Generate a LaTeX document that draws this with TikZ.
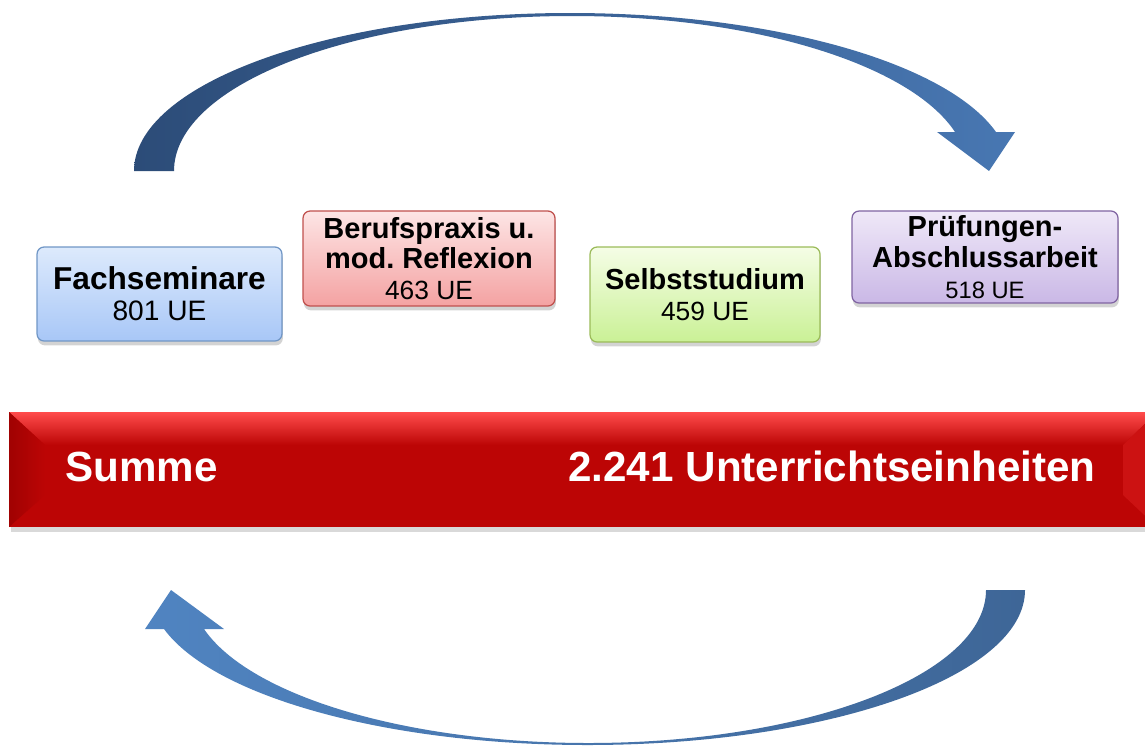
\documentclass[tikz,border=0pt]{standalone}
\usepackage{fontspec}
\setmainfont{Liberation Sans}
\usetikzlibrary{shadows}
\frenchspacing

\definecolor{arcDark}{HTML}{2C4C78}
\definecolor{arcLight}{HTML}{9AB3D6}
\definecolor{arcMid}{HTML}{4877B2}
\definecolor{arcLow}{HTML}{5084C1}
\definecolor{arcDeep}{HTML}{3E6697}

\definecolor{blueTop}{HTML}{DDEAFC}
\definecolor{blueBot}{HTML}{A8C7F7}
\definecolor{blueLine}{HTML}{7096C6}
\definecolor{redTop}{HTML}{FDE5E5}
\definecolor{redBot}{HTML}{F4A2A2}
\definecolor{redLine}{HTML}{C0504D}
\definecolor{greenTop}{HTML}{F5FDE6}
\definecolor{greenBot}{HTML}{CAF196}
\definecolor{greenLine}{HTML}{9BBB59}
\definecolor{lilaTop}{HTML}{EFE8F8}
\definecolor{lilaBot}{HTML}{CAB8E6}
\definecolor{lilaLine}{HTML}{8064A2}

\definecolor{barTop}{HTML}{FF4C4C}
\definecolor{barBase}{HTML}{BC0505}
\definecolor{barDark}{HTML}{A00202}
\definecolor{barSide}{HTML}{CC1212}

\begin{document}
\begin{tikzpicture}[> = latex, x = 0.02cm, y = -0.02cm, font = \fontsize{16.5}{17.5}\selectfont,
	box/.style = {draw, rounded corners = 4pt, line width = 0.7pt, align = center, inner sep = 0pt,
		drop shadow = {shadow xshift = 0.5pt, shadow yshift = -2.5pt, opacity = 0.35}},
	bartext/.style = {white, inner sep = 0pt, font = \fontsize{24}{26}\selectfont\bfseries}]

	\useasboundingbox (0, 0) rectangle (1145, 747);

	% Upper arrow (left -> right)

	\shade [left color = arcDark, middle color = arcLight, right color = arcMid]
		(134, 171) .. controls (134, 84) and (329, 13) .. (570, 13)
		.. controls (771, 13) and (946, 62) .. (996, 132)
		-- (1015, 132) -- (989, 171) -- (937, 132) -- (955, 132)
		.. controls (910, 64) and (753, 16) .. (572, 16)
		.. controls (352, 16) and (174, 85) .. (174, 171) -- cycle;

	% Boxes

	\node (fach) [box, draw = blueLine, top color = blueTop, bottom color = blueBot,
		minimum width = 4.9cm, minimum height = 1.88cm] at (159.5, 294)
		{{\fontsize{18}{17}\selectfont\bfseries Fachseminare}\\ {\fontsize{16}{17}\selectfont 801 UE}};

	\node (beruf) [box, draw = redLine, top color = redTop, bottom color = redBot,
		minimum width = 5.04cm, minimum height = 1.9cm] at (429, 258.5)
		{{\bfseries Berufspraxis u.}\\ {\bfseries mod. Reflexion}\\ {\fontsize{15}{17}\selectfont 463 UE}};

	\node (selbst) [box, draw = greenLine, top color = greenTop, bottom color = greenBot,
		minimum width = 4.6cm, minimum height = 1.9cm] at (705, 294.5)
		{{\bfseries Selbststudium}\\ {\fontsize{15}{17}\selectfont 459 UE}};

	\node (pruef) [box, draw = lilaLine, top color = lilaTop, bottom color = lilaBot,
		minimum width = 5.32cm, minimum height = 1.84cm] at (985, 257)
		{{\bfseries Prüfungen-}\\ {\bfseries Abschlussarbeit}\\ {\fontsize{13.5}{16}\selectfont 518 UE}};

	% Sum bar

	\node (bar) [fill = barBase, inner sep = 0pt, minimum width = 22.96cm, minimum height = 2.3cm,
		drop shadow = {shadow xshift = 1pt, shadow yshift = -3pt, opacity = 0.3}] at (583, 469.5) {};

	\shade [top color = barTop, bottom color = barBase] (9, 412) -- (1157, 412) -- (1123, 445) -- (45, 445) -- cycle;
	\shade [left color = barDark, right color = barBase] (9, 412) -- (45, 445) -- (45, 495) -- (9, 527) -- cycle;
	\fill [barSide] (1157, 412) -- (1123, 445) -- (1123, 495) -- (1157, 527) -- cycle;
	\fill [barBase] (45, 445) rectangle (1123, 495);

	\node (summe) [bartext, anchor = base west] at (65, 481) {Summe};
	\node (einheiten) [bartext, anchor = base east] at (1096, 481) {2.241 Unterrichtseinheiten};

	% Lower arrow (right -> left)

	\shade [left color = arcLow, right color = arcDeep]
		(1025, 590) .. controls (1025, 676) and (829, 745) .. (587.5, 745)
		.. controls (388, 745) and (214, 697) .. (164, 629)
		-- (145, 629) -- (171, 590) -- (224, 629) -- (204, 629)
		.. controls (250, 696) and (407, 743) .. (588.4, 743)
		.. controls (808, 743) and (986, 674.5) .. (986, 590) -- cycle;

\end{tikzpicture}
\end{document}
